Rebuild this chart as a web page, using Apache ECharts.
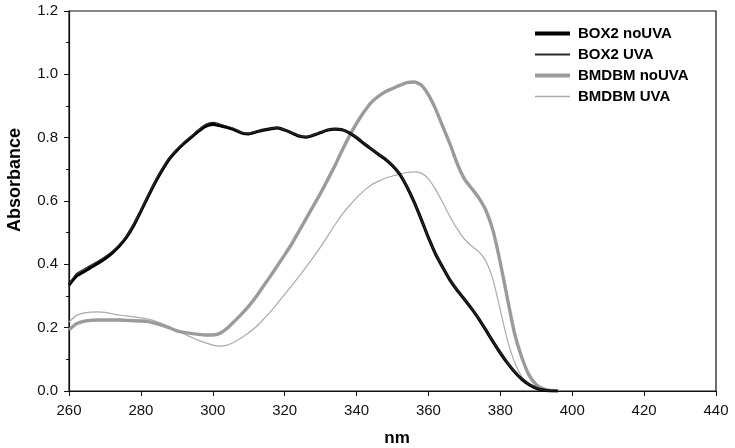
<!DOCTYPE html>
<html>
<head>
<meta charset="utf-8">
<script src="https://cdn.jsdelivr.net/npm/echarts@6/dist/echarts.min.js"></script>
<style>
html,body{margin:0;padding:0;background:#fff;}
#chart{width:735px;height:448px;}
</style>
</head>
<body>
<div id="chart"></div>
<script>
// Wavelengths (nm)
var wavelengths = [260,262,264,266,268,270,272,274,276,278,280,282,284,286,288,290,292,294,296,298,
  300,302,304,306,308,310,312,314,316,318,320,322,324,326,328,330,332,334,336,338,
  340,342,344,346,348,350,352,354,356,358,360,362,364,366,368,370,372,374,376,378,
  380,382,384,386,388,390,392,394,396];

var box2NoUVA = [0.335,0.362,0.376,0.390,0.403,0.418,0.436,0.458,0.486,0.523,0.568,0.614,0.659,0.699,0.734,0.760,0.782,0.801,0.820,0.836,
  0.842,0.838,0.832,0.825,0.815,0.812,0.818,0.824,0.828,0.831,0.824,0.815,0.805,0.802,0.808,0.816,0.824,0.827,0.825,0.815,
  0.800,0.782,0.765,0.748,0.732,0.712,0.685,0.645,0.597,0.542,0.484,0.432,0.390,0.350,0.318,0.290,0.260,0.228,0.192,0.155,
  0.120,0.088,0.060,0.037,0.020,0.009,0.003,0.000,0.000];

var box2UVA = [0.338,0.370,0.384,0.397,0.410,0.424,0.441,0.462,0.489,0.526,0.571,0.617,0.662,0.702,0.737,0.763,0.786,0.805,0.825,0.842,
  0.848,0.843,0.836,0.828,0.817,0.813,0.819,0.825,0.829,0.832,0.825,0.816,0.806,0.803,0.809,0.817,0.825,0.828,0.826,0.816,
  0.801,0.783,0.766,0.749,0.733,0.713,0.686,0.646,0.598,0.543,0.485,0.433,0.391,0.351,0.319,0.291,0.261,0.229,0.193,0.156,
  0.121,0.089,0.061,0.038,0.021,0.010,0.003,0.000,0.000];

var bmdbmNoUVA = [0.193,0.212,0.220,0.223,0.224,0.224,0.224,0.224,0.223,0.222,0.221,0.219,0.214,0.207,0.199,0.190,0.185,0.182,0.179,0.177,
  0.177,0.182,0.198,0.220,0.243,0.268,0.297,0.330,0.362,0.396,0.430,0.465,0.505,0.545,0.585,0.625,0.668,0.712,0.760,0.805,
  0.845,0.880,0.910,0.930,0.945,0.955,0.965,0.974,0.976,0.966,0.935,0.890,0.835,0.780,0.718,0.670,0.640,0.610,0.570,0.505,
  0.405,0.290,0.180,0.105,0.050,0.020,0.007,0.002,0.000];

var bmdbmUVA = [0.218,0.238,0.246,0.249,0.250,0.248,0.244,0.240,0.237,0.234,0.231,0.227,0.221,0.212,0.203,0.190,0.180,0.170,0.160,0.152,
  0.145,0.142,0.145,0.155,0.168,0.184,0.202,0.225,0.250,0.277,0.305,0.333,0.362,0.392,0.423,0.455,0.490,0.525,0.558,0.585,
  0.610,0.632,0.650,0.662,0.672,0.679,0.685,0.690,0.692,0.688,0.670,0.636,0.595,0.550,0.512,0.480,0.458,0.440,0.410,0.350,
  0.255,0.160,0.090,0.045,0.022,0.009,0.003,0.000,0.000];

var seriesNames = ['BOX2 noUVA','BOX2 UVA','BMDBM noUVA','BMDBM UVA'];
var xTitle = 'nm';
var yTitle = 'Absorbance';

function pairs(ys){ return wavelengths.map(function(x,i){ return [x, ys[i]]; }); }

var FONT = '"Liberation Sans", Arial, sans-serif';
var chart = echarts.init(document.getElementById('chart'), null, {renderer:'canvas'});

var styles = [
  {color:'#000000', width:3.2, z:4, legendW:4},
  {color:'#2a2a2a', width:1.2, z:5, legendW:2},
  {color:'#9b9b9b', width:3.4, z:3, legendW:4},
  {color:'#ababab', width:1.2, z:2, legendW:1.5}
];
var dataSets = [box2NoUVA, box2UVA, bmdbmNoUVA, bmdbmUVA];

function barIcon(h){ return 'path://M0,0L35,0L35,' + h + 'L0,' + h + 'Z'; }

chart.setOption({
  animation:false,
  backgroundColor:'#ffffff',
  grid:{left:69, right:19, top:11, bottom:57, show:true, borderColor:'#111', borderWidth:1.2, backgroundColor:'transparent'},
  legend:{
    orient:'vertical', left:535, top:26, padding:0, itemWidth:35, itemHeight:14, itemGap:6,
    symbolKeepAspect:true,
    textStyle:{fontFamily:FONT, fontSize:15, fontWeight:'bold', color:'#000', padding:[0,0,0,3]},
    data: seriesNames.map(function(n,i){
      return {name:n, icon:barIcon(styles[i].legendW), itemStyle:{color:styles[i].color, borderWidth:0}};
    })
  },
  xAxis:{
    type:'value', min:260, max:440, interval:20,
    axisLine:{onZero:false, lineStyle:{color:'#111', width:1.2}},
    axisTick:{show:true, inside:false, length:5, lineStyle:{color:'#111', width:1}},
    splitLine:{show:false},
    axisLabel:{fontFamily:FONT, fontSize:15, color:'#111', margin:12}
  },
  yAxis:{
    type:'value', min:0, max:1.2, interval:0.2,
    axisLine:{show:true, lineStyle:{color:'#111', width:1.2}},
    axisTick:{show:true, inside:false, length:5, lineStyle:{color:'#111', width:1}},
    minorTick:{show:true, splitNumber:2, length:3, lineStyle:{color:'#111', width:1}},
    splitLine:{show:false},
    axisLabel:{fontFamily:FONT, fontSize:15, color:'#111', margin:11,
      formatter:function(v){ return v.toFixed(1); }}
  },
  graphic:[
    {type:'text', x:397, y:438, style:{text:xTitle, font:'bold 17px '+FONT, fill:'#000', textAlign:'center', textVerticalAlign:'middle'}},
    {type:'text', x:15, y:180, rotation:Math.PI/2, style:{text:yTitle, font:'bold 18px '+FONT, fill:'#000', textAlign:'center', textVerticalAlign:'middle'}}
  ],
  series: seriesNames.map(function(n,i){
    return {
      name:n, type:'line', symbol:'none', smooth:0.2, z:styles[i].z,
      data:pairs(dataSets[i]),
      lineStyle:{color:styles[i].color, width:styles[i].width},
      itemStyle:{color:styles[i].color}
    };
  })
});
</script>
</body>
</html>
